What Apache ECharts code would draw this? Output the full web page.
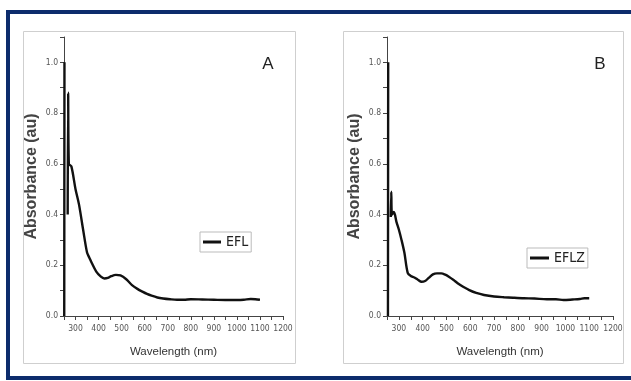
<!DOCTYPE html>
<html>
<head>
<meta charset="utf-8">
<script src="https://cdn.jsdelivr.net/npm/echarts@6/dist/echarts.min.js"></script>
<style>
  html, body {margin: 0; padding: 0; background: #fff;}
  #main {width: 631px; height: 381px;}
</style>
</head>
<body>
<div id="main"></div>
<script>
// wavelength (nm) / absorbance (au), null = pen lifted
const wavelengthA = [251, 252, 260, 266, 268, 271, 282, 300, 315, 333, 350, 360, 370, 390, 410, 425, 440, 455, 475, 495, 520, 545, 570, 590, 610, 630, 655, 680, 710, 740, 770, 800, 850, 900, 950, 1000, 1030, 1060, 1080, 1100];
const absorbA =     [0, 1.0, null, 0.40, 0.88, 0.60, 0.59, 0.50, 0.44, 0.34, 0.25, 0.23, 0.21, 0.175, 0.155, 0.148, 0.150, 0.157, 0.162, 0.160, 0.145, 0.122, 0.106, 0.096, 0.087, 0.080, 0.073, 0.069, 0.066, 0.064, 0.064, 0.066, 0.065, 0.064, 0.063, 0.063, 0.064, 0.067, 0.066, 0.064];

const wavelengthB = [254, 255, 260, 266, 268, 271, 279, 290, 300, 311, 323, 337, 350, 365, 380, 395, 410, 425, 443, 460, 478, 495, 510, 530, 547, 570, 596, 625, 658, 700, 742, 780, 825, 870, 922, 960, 992, 1030, 1061, 1080, 1100];
const absorbB =     [0, 1.0, null, 0.39, 0.49, 0.40, 0.41, 0.37, 0.34, 0.30, 0.25, 0.17, 0.158, 0.152, 0.143, 0.135, 0.138, 0.150, 0.164, 0.168, 0.168, 0.163, 0.155, 0.142, 0.129, 0.115, 0.102, 0.091, 0.083, 0.077, 0.074, 0.072, 0.070, 0.069, 0.066, 0.066, 0.063, 0.065, 0.067, 0.070, 0.070];

const seriesNames = ['EFL', 'EFLZ'];
const panelLetters = ['A', 'B'];

const narrow = "'Liberation Sans Narrow', 'DejaVu Sans Condensed', sans-serif";
const sans = "'Liberation Sans', Arial, sans-serif";
const axisColor = '#444';

const zip = (xs, ys) => xs.map((x, i) => [x, ys[i] === null ? '-' : ys[i]]);

function xAxis(idx) {
  return {
    type: 'value', gridIndex: idx, min: 250, max: 1200, interval: 50,
    name: 'Wavelength (nm)', nameLocation: 'middle', nameGap: 30,
    nameTextStyle: {fontFamily: sans, fontSize: 11.5, color: '#333'},
    axisLine: {lineStyle: {color: axisColor, width: 1}},
    axisTick: {inside: false, length: 4, lineStyle: {color: axisColor}},
    axisLabel: {
      margin: 8, fontFamily: narrow, fontSize: 8.5, color: '#555',
      formatter: v => (v % 100 === 0 ? String(v) : '')
    },
    splitLine: {show: false}
  };
}

function yAxis(idx) {
  return {
    type: 'value', gridIndex: idx, min: 0, max: 1.1, interval: 0.1,
    name: 'Absorbance (au)', nameLocation: 'middle', nameGap: 24,
    nameTextStyle: {fontFamily: sans, fontSize: 16, fontWeight: 600, color: '#444'},
    axisLine: {show: true, lineStyle: {color: axisColor, width: 1}},
    axisTick: {inside: false, length: 4, lineStyle: {color: axisColor}},
    axisLabel: {
      margin: 6, fontFamily: narrow, fontSize: 8.5, color: '#555',
      formatter: v => {
        const k = Math.round(v * 10);
        return (k % 2 === 0 && k <= 10) ? (k / 10).toFixed(1) : '';
      }
    },
    splitLine: {show: false}
  };
}

const chart = echarts.init(document.getElementById('main'));
chart.setOption({
  animation: false,
  backgroundColor: '#fff',
  grid: [
    {left: 64, top: 37, width: 219, height: 279},
    {left: 387, top: 37, width: 226, height: 279}
  ],
  xAxis: [xAxis(0), xAxis(1)],
  yAxis: [yAxis(0), yAxis(1)],
  legend: [
    {
      data: [seriesNames[0]], left: 200, top: 232, orient: 'horizontal',
      borderColor: '#bbb', borderWidth: 1, padding: [3, 3],
      icon: 'rect', itemWidth: 18, itemHeight: 3,
      textStyle: {fontFamily: narrow, fontSize: 14, color: '#222'}
    },
    {
      data: [seriesNames[1]], left: 527, top: 248, orient: 'horizontal',
      borderColor: '#bbb', borderWidth: 1, padding: [3, 3],
      icon: 'rect', itemWidth: 19, itemHeight: 3,
      textStyle: {fontFamily: narrow, fontSize: 14, color: '#222'}
    }
  ],
  graphic: [
    {type: 'rect', shape: {x: 8, y: 12, width: 660, height: 366},
      style: {fill: 'none', stroke: '#0d2c6c', lineWidth: 4}, z: 10},
    {type: 'rect', shape: {x: 23.5, y: 31.5, width: 272, height: 332},
      style: {fill: 'none', stroke: '#cfcfcf', lineWidth: 1}},
    {type: 'rect', shape: {x: 343.5, y: 31.5, width: 280, height: 332},
      style: {fill: 'none', stroke: '#cfcfcf', lineWidth: 1}},
    {type: 'text', x: 268, y: 64, style: {text: panelLetters[0], fontFamily: sans,
      fontSize: 17, fill: '#222', align: 'center', verticalAlign: 'middle'}},
    {type: 'text', x: 600, y: 64, style: {text: panelLetters[1], fontFamily: sans,
      fontSize: 17, fill: '#222', align: 'center', verticalAlign: 'middle'}}
  ],
  series: [
    {
      name: seriesNames[0], type: 'line', xAxisIndex: 0, yAxisIndex: 0,
      data: zip(wavelengthA, absorbA), showSymbol: false, smooth: 0.3,
      connectNulls: false, color: '#111', lineStyle: {width: 2.4, color: '#111'}
    },
    {
      name: seriesNames[1], type: 'line', xAxisIndex: 1, yAxisIndex: 1,
      data: zip(wavelengthB, absorbB), showSymbol: false, smooth: 0.3,
      connectNulls: false, color: '#111', lineStyle: {width: 2.4, color: '#111'}
    }
  ]
});
</script>
</body>
</html>
